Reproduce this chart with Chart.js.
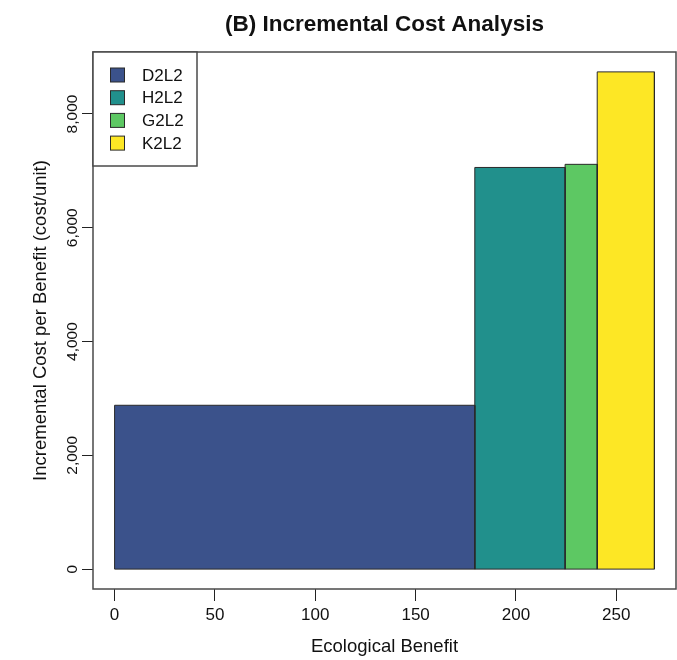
<!DOCTYPE html>
<html>
<head>
<meta charset="utf-8">
<script src="https://cdn.jsdelivr.net/npm/chart.js@4"></script>
<style>
  html, body { margin: 0; padding: 0; background: #fff; }
  #wrap { width: 677px; height: 660px; }
</style>
</head>
<body>
<div id="wrap"><canvas id="chart" width="677" height="660"></canvas></div>
<script>
// Alternatives, their benefit intervals and incremental cost per unit of benefit
const alternatives    = ['D2L2', 'H2L2', 'G2L2', 'K2L2'];
const benefitStart    = [0, 179.5, 224.5, 240.5];
const benefitEnd      = [179.5, 224.5, 240.5, 269];
const incrementalCost = [2880, 7060, 7115, 8740];
const barColors       = ['#3B528B', '#21908C', '#5DC863', '#FDE725'];

const xTicks = [0, 50, 100, 150, 200, 250];
const yTicks = [0, 2000, 4000, 6000, 8000];

const TITLE = '(B) Incremental Cost Analysis';
const FONT  = '"Liberation Sans", Arial, Helvetica, sans-serif';

// R-style 4% axis extension
const xMax = Math.max(...benefitEnd);
const yMax = Math.max(...incrementalCost);

// each alternative is a closed rectangle in data coordinates
const datasets = alternatives.map((name, i) => ({
  label: name,
  data: [
    { x: benefitStart[i], y: 0 },
    { x: benefitStart[i], y: incrementalCost[i] },
    { x: benefitEnd[i],   y: incrementalCost[i] },
    { x: benefitEnd[i],   y: 0 },
    { x: benefitStart[i], y: 0 },
  ],
  showLine: true,
  fill: 'shape',
  backgroundColor: barColors[i],
  borderColor: '#2a2a2a',
  borderWidth: 1,
  pointRadius: 0,
  tension: 0,
}));

// box around the plot region + title centred over it
const frameBox = {
  id: 'frameBox',
  afterDatasetsDraw(chart) {
    const { ctx, chartArea: a } = chart;
    ctx.save();
    ctx.strokeStyle = '#4a4a4a';
    ctx.lineWidth = 1.5;
    ctx.strokeRect(a.left, a.top, a.right - a.left, a.bottom - a.top);
    ctx.fillStyle = '#111';
    ctx.font = `bold 22.5px ${FONT}`;
    ctx.textAlign = 'center';
    ctx.textBaseline = 'alphabetic';
    ctx.fillText(TITLE, (a.left + a.right) / 2, 31);
    ctx.restore();
  },
};

// legend in the top-left corner, like R's legend("topleft")
const cornerLegend = {
  id: 'cornerLegend',
  afterDraw(chart) {
    const { ctx, chartArea: a } = chart;
    const w = 104, h = 114;
    ctx.save();
    ctx.fillStyle = '#fff';
    ctx.fillRect(a.left, a.top, w, h);
    ctx.strokeStyle = '#4a4a4a';
    ctx.lineWidth = 1.5;
    ctx.strokeRect(a.left, a.top, w, h);
    ctx.font = `17px ${FONT}`;
    ctx.textBaseline = 'middle';
    chart.data.datasets.forEach((ds, i) => {
      const cy = a.top + 23 + i * 22.7;
      ctx.fillStyle = ds.backgroundColor;
      ctx.fillRect(a.left + 17.5, cy - 7, 14, 14);
      ctx.strokeStyle = '#2a2a2a';
      ctx.lineWidth = 1;
      ctx.strokeRect(a.left + 17.5, cy - 7, 14, 14);
      ctx.fillStyle = '#111';
      ctx.fillText(ds.label, a.left + 49, cy + 1);
    });
    ctx.restore();
  },
};

new Chart(document.getElementById('chart'), {
  type: 'scatter',
  data: { datasets },
  plugins: [frameBox, cornerLegend],
  options: {
    responsive: false,
    animation: false,
    events: [],
    layout: { padding: { left: 0, right: 1, top: 52, bottom: 0 } },
    plugins: {
      legend: { display: false },
      tooltip: { enabled: false },
      title: { display: false },
    },
    scales: {
      x: {
        type: 'linear',
        min: -0.04 * xMax,
        max: 1.04 * xMax,
        afterBuildTicks: s => { s.ticks = xTicks.map(v => ({ value: v })); },
        afterFit: s => { s.height = 71; },
        border: { display: false },
        grid: { drawOnChartArea: false, drawTicks: true, tickLength: 12, color: '#222', lineWidth: 1 },
        ticks: { color: '#111', padding: 4, maxRotation: 0, font: { family: FONT, size: 17 } },
        title: {
          display: true,
          text: 'Ecological Benefit',
          color: '#111',
          font: { family: FONT, size: 18.5, lineHeight: 1.2 },
          padding: { top: 0, bottom: 2 },
        },
      },
      y: {
        type: 'linear',
        min: -0.04 * yMax,
        max: 1.04 * yMax,
        afterBuildTicks: s => { s.ticks = yTicks.map(v => ({ value: v })); },
        afterFit: s => { s.width = 93; },
        border: { display: false },
        grid: { drawOnChartArea: false, drawTicks: true, tickLength: 11, color: '#222', lineWidth: 1 },
        ticks: {
          color: '#111',
          minRotation: 90,
          maxRotation: 90,
          crossAlign: 'center',
          padding: -10,
          font: { family: FONT, size: 15.5 },
          callback: v => v.toLocaleString('en-US'),
        },
        title: {
          display: true,
          text: 'Incremental Cost per Benefit (cost/unit)',
          color: '#111',
          font: { family: FONT, size: 18.5, lineHeight: 1.2 },
          padding: { top: 30, bottom: 0 },
        },
      },
    },
  },
});
</script>
</body>
</html>
